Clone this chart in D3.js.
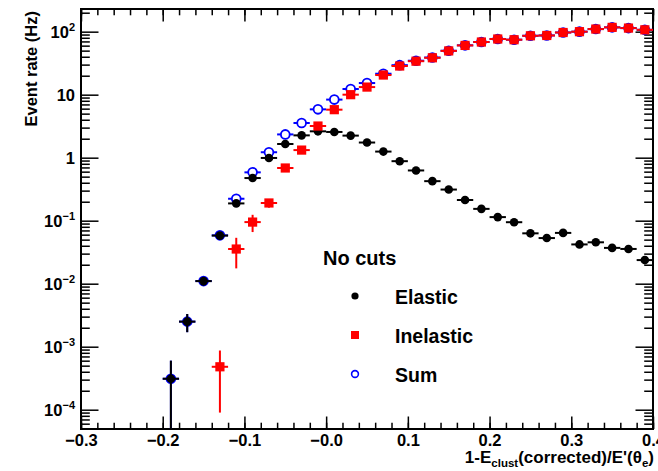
<!DOCTYPE html>
<html>
<head>
<meta charset="utf-8">
<script src="https://cdn.jsdelivr.net/npm/d3@7"></script>
<style>
  body { margin: 0; background: #fff; }
  text { font-family: "Liberation Sans", Arial, Helvetica, sans-serif; font-weight: bold; }
</style>
</head>
<body>
<script>
// bin centres of the histogram (bin width 0.02)
const binCenters = [-0.19, -0.17, -0.15, -0.13, -0.11, -0.09, -0.07, -0.05, -0.03, -0.01,
  0.01, 0.03, 0.05, 0.07, 0.09, 0.11, 0.13, 0.15, 0.17, 0.19,
  0.21, 0.23, 0.25, 0.27, 0.29, 0.31, 0.33, 0.35, 0.37, 0.39];
const binHalfWidth = 0.01;

// rates in Hz
const elastic = [3.1e-4, 2.5e-3, 0.011, 0.058, 0.188, 0.475, 0.99, 1.65, 2.26, 2.62,
  2.56, 2.24, 1.74, 1.25, 0.88, 0.627, 0.424, 0.312, 0.213, 0.154,
  0.114, 0.0946, 0.063, 0.053, 0.064, 0.042, 0.0454, 0.037, 0.0356, 0.0237];
const elasticErr = [2.9e-4, 8e-4, 1.7e-3, 4e-3, 8e-3, 0.013, 0.02, 0.026, 0.03, 0.033,
  0.032, 0.03, 0.026, 0.022, 0.018, 0.015, 0.012, 0.01, 0.008, 0.007,
  0.006, 0.0055, 0.0045, 0.004, 0.0045, 0.0035, 0.0037, 0.0033, 0.0032, 0.0026];

const inelastic = [null, null, null, 4.8e-4, 0.0355, 0.095, 0.191, 0.686, 1.32, 3.18,
  5.78, 10.0, 13.2, 20.5, 28.5, 34.0, 38.5, 49.5, 60.5, 68.5,
  76.5, 74.5, 86, 87, 97, 100, 110, 117, 114, 107];
const inelasticErr = [null, null, null, 3.9e-4, 0.018, 0.029, 0.03, 0.07, 0.1, 0.16,
  0.22, 0.3, 0.35, 0.45, 0.55, 0.6, 0.65, 0.75, 0.85, 0.9,
  0.95, 0.95, 1.0, 1.0, 1.1, 1.1, 1.2, 1.2, 1.2, 1.2];

const sum = [3.1e-4, 2.5e-3, 0.011, 0.0585, 0.223, 0.585, 1.22, 2.34, 3.55, 5.85,
  8.35, 12.3, 15.3, 21.5, 29.4, 34.6, 38.9, 49.8, 60.7, 68.6,
  76.6, 74.6, 86.1, 87.1, 97.1, 100, 110, 117, 114, 107];
const sumErr = [2.9e-4, 8e-4, 1.7e-3, 4e-3, 0.02, 0.03, 0.036, 0.075, 0.1, 0.16,
  0.22, 0.3, 0.35, 0.45, 0.55, 0.6, 0.65, 0.75, 0.85, 0.9,
  0.95, 0.95, 1.0, 1.0, 1.1, 1.1, 1.2, 1.2, 1.2, 1.2];

const xTickValues = [-0.3, -0.2, -0.1, 0.0, 0.1, 0.2, 0.3, 0.4];
const xTickLabels = ["\u22120.3", "\u22120.2", "\u22120.1", "\u22120.0", "0.1", "0.2", "0.3", "0.4"];
const yDecades = [-4, -3, -2, -1, 0, 1, 2];

const width = 658, height = 471;
const frame = { left: 81, right: 653, top: 9, bottom: 429 };

const svg = d3.select("body").append("svg")
  .attr("width", width)
  .attr("height", height);

const x = d3.scaleLinear().domain([-0.3, 0.4]).range([frame.left, frame.right]);
const y = d3.scaleLog().domain([4.94e-5, 229]).range([frame.bottom, frame.top]);

// minor ticks
const xMinor = d3.range(-0.3, 0.4001, 0.02).map(v => +v.toFixed(2));
const yMinor = [];
yDecades.concat([-5]).forEach(e => {
  for (let k = 2; k <= 9; k++) {
    const v = k * Math.pow(10, e);
    if (v > y.domain()[0] && v < y.domain()[1]) yMinor.push(v);
  }
});

const plotW = frame.right - frame.left, plotH = frame.bottom - frame.top;
const xMaj = 12.5, xMin = 6.3, yMaj = 17.5, yMin = 8.8;

function styleAxis(g) {
  g.select(".domain").remove();
  g.selectAll("line").attr("stroke", "#000").attr("stroke-width", 1.5);
}

// bottom axis
svg.append("g").attr("transform", `translate(0,${frame.bottom})`)
  .call(d3.axisBottom(x).tickValues(xMinor).tickSize(-xMin).tickFormat(""))
  .call(styleAxis);
svg.append("g").attr("transform", `translate(0,${frame.bottom})`)
  .call(d3.axisBottom(x).tickValues(xTickValues).tickSize(-xMaj).tickPadding(5)
    .tickFormat((d, i) => xTickLabels[i]))
  .call(styleAxis)
  .call(g => g.selectAll("text").attr("fill", "#000").attr("font-size", 16.5)
    .style("font-family", '"Liberation Sans", Arial, sans-serif').style("font-weight", "bold"));

// top axis (ticks only)
svg.append("g").attr("transform", `translate(0,${frame.top})`)
  .call(d3.axisTop(x).tickValues(xMinor).tickSize(-xMin).tickFormat(""))
  .call(styleAxis);
svg.append("g").attr("transform", `translate(0,${frame.top})`)
  .call(d3.axisTop(x).tickValues(xTickValues).tickSize(-xMaj).tickFormat(""))
  .call(styleAxis);

// left axis
svg.append("g").attr("transform", `translate(${frame.left},0)`)
  .call(d3.axisLeft(y).tickValues(yMinor).tickSize(-yMin).tickFormat(""))
  .call(styleAxis);
const yLeft = svg.append("g").attr("transform", `translate(${frame.left},0)`)
  .call(d3.axisLeft(y).tickValues(yDecades.map(e => Math.pow(10, e))).tickSize(-yMaj).tickPadding(6)
    .tickFormat(""))
  .call(styleAxis);

yLeft.selectAll(".tick").each(function (d, i) {
  const e = yDecades[i];
  const t = d3.select(this).select("text")
    .attr("fill", "#000").attr("font-size", 16.5)
    .attr("dy", "0.33em")
    .style("font-family", '"Liberation Sans", Arial, sans-serif').style("font-weight", "bold");
  if (e === 0) { t.text("1"); return; }
  if (e === 1) { t.text("10"); return; }
  t.append("tspan").text("10");
  t.append("tspan").attr("font-size", 11).attr("dy", -6.5)
    .text(e < 0 ? "\u2212" + (-e) : String(e));
});

// right axis (ticks only)
svg.append("g").attr("transform", `translate(${frame.right},0)`)
  .call(d3.axisRight(y).tickValues(yMinor).tickSize(-yMin).tickFormat(""))
  .call(styleAxis);
svg.append("g").attr("transform", `translate(${frame.right},0)`)
  .call(d3.axisRight(y).tickValues(yDecades.map(e => Math.pow(10, e))).tickSize(-yMaj).tickFormat(""))
  .call(styleAxis);

// frame
svg.append("rect")
  .attr("x", frame.left).attr("y", frame.top)
  .attr("width", plotW).attr("height", plotH)
  .attr("fill", "none").attr("stroke", "#000").attr("stroke-width", 2);

// axis titles
svg.append("text")
  .attr("transform", `translate(37,${frame.top + 2}) rotate(-90)`)
  .attr("text-anchor", "end")
  .attr("font-size", 16.5)
  .text("Event rate (Hz)");

const xTitle = svg.append("text")
  .attr("x", frame.right + 1).attr("y", 463)
  .attr("text-anchor", "end")
  .attr("font-size", 17);
xTitle.append("tspan").text("1-E");
xTitle.append("tspan").attr("font-size", 11.5).attr("dy", 4).text("clust");
xTitle.append("tspan").attr("dy", -4).text("(corrected)/E'(\u03b8");
xTitle.append("tspan").attr("font-size", 11.5).attr("dy", 4).text("e");
xTitle.append("tspan").attr("dy", -4).text(")");

// data
svg.append("clipPath").attr("id", "plot-clip")
  .append("rect").attr("x", frame.left).attr("y", frame.top)
  .attr("width", plotW).attr("height", plotH);

const plot = svg.append("g").attr("clip-path", "url(#plot-clip)");

function drawSeries(values, errors, color, marker) {
  const pts = binCenters.map((c, i) => ({ c, v: values[i], e: errors[i] || 0 }))
    .filter(d => d.v != null && d.v > 0);
  const g = plot.append("g");
  g.selectAll("line.h").data(pts).join("line")
    .attr("class", "h")
    .attr("x1", d => x(d.c - binHalfWidth)).attr("x2", d => x(d.c + binHalfWidth))
    .attr("y1", d => y(d.v)).attr("y2", d => y(d.v))
    .attr("stroke", color).attr("stroke-width", 2);
  g.selectAll("line.v").data(pts.filter(d => d.e > 0)).join("line")
    .attr("class", "v")
    .attr("x1", d => x(d.c)).attr("x2", d => x(d.c))
    .attr("y1", d => y(d.v + d.e))
    .attr("y2", d => d.v - d.e > y.domain()[0] ? y(d.v - d.e) : frame.bottom + 2)
    .attr("stroke", color).attr("stroke-width", 2);
  if (marker === "circle") {
    g.selectAll("circle").data(pts).join("circle")
      .attr("cx", d => x(d.c)).attr("cy", d => y(d.v)).attr("r", 4.3)
      .attr("fill", color);
  } else if (marker === "open") {
    g.selectAll("circle").data(pts).join("circle")
      .attr("cx", d => x(d.c)).attr("cy", d => y(d.v)).attr("r", 4.4)
      .attr("fill", "#fff").attr("stroke", color).attr("stroke-width", 1.8);
  } else {
    g.selectAll("rect").data(pts).join("rect")
      .attr("x", d => x(d.c) - 4.6).attr("y", d => y(d.v) - 4.6)
      .attr("width", 9.2).attr("height", 9.2)
      .attr("fill", color);
  }
}

drawSeries(sum, sumErr, "#0000ff", "open");
drawSeries(elastic, elasticErr, "#000000", "circle");
drawSeries(inelastic, inelasticErr, "#ff0000", "square");

// legend
const legend = svg.append("g");
legend.append("text").attr("x", 323).attr("y", 265).attr("font-size", 20).text("No cuts");
const entries = [
  { label: "Elastic", color: "#000", marker: "circle", cy: 296 },
  { label: "Inelastic", color: "#ff0000", marker: "square", cy: 335 },
  { label: "Sum", color: "#0000ff", marker: "open", cy: 374 }
];
entries.forEach(en => {
  if (en.marker === "circle") {
    legend.append("circle").attr("cx", 355).attr("cy", en.cy).attr("r", 3.6).attr("fill", en.color);
  } else if (en.marker === "square") {
    legend.append("rect").attr("x", 351).attr("y", en.cy - 4).attr("width", 8).attr("height", 8).attr("fill", en.color);
  } else {
    legend.append("circle").attr("cx", 355).attr("cy", en.cy).attr("r", 3.4)
      .attr("fill", "none").attr("stroke", en.color).attr("stroke-width", 1.6);
  }
  legend.append("text").attr("x", 395).attr("y", en.cy + 8).attr("font-size", 19.5).text(en.label);
});
</script>
</body>
</html>
